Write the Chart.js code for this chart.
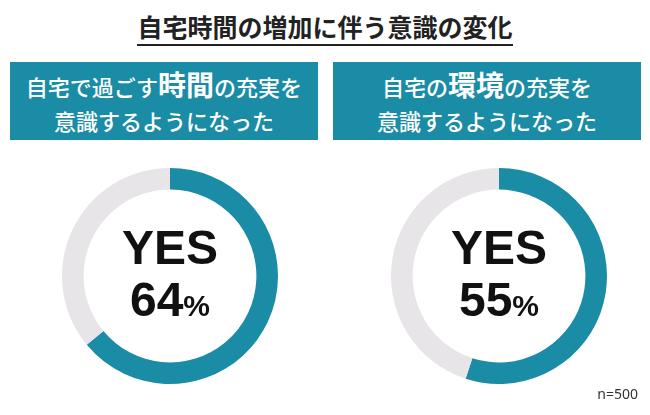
<!DOCTYPE html>
<html><head><meta charset="utf-8">
<script src="https://cdn.jsdelivr.net/npm/chart.js@4"></script>
<style>
body{margin:0;width:650px;height:415px;background:#fff;font-family:"Noto Sans CJK JP",sans-serif;position:relative;overflow:hidden}
#title{position:absolute;left:0;top:8px;width:650px;text-align:center;font-size:25px;font-weight:bold;color:#222}
#title span{border-bottom:2px solid #222;padding-bottom:0px}
.box{position:absolute;top:62px;width:308px;height:78px;background:#1a8ca6;color:#fff;text-align:center;font-size:22px;font-weight:500;line-height:34px;padding-top:5px;box-sizing:border-box}
.box b{font-size:28px;font-weight:bold}
.wrap{position:absolute;top:166px;width:220px;height:220px}
.ctr{position:absolute;left:0;top:56px;width:220px;text-align:center;font-family:"Liberation Sans",Arial,sans-serif;font-weight:bold;color:#111;font-size:48px;line-height:52px}
.ctr small{font-size:30px}
#n{position:absolute;right:12px;top:384px;font-size:14px;color:#333;font-family:"Noto Sans",sans-serif}
</style></head><body>
<div id="title"><span>自宅時間の増加に伴う意識の変化</span></div>
<div class="box" style="left:10px">自宅で過ごす<b>時間</b>の充実を<br>意識するようになった</div>
<div class="box" style="left:333px">自宅の<b>環境</b>の充実を<br>意識するようになった</div>
<div class="wrap" style="left:60px"><canvas id="c1"></canvas><div class="ctr">YES<br>64<small>%</small></div></div>
<div class="wrap" style="left:389px"><canvas id="c2"></canvas><div class="ctr">YES<br>55<small>%</small></div></div>
<div id="n">n=500</div>
<script>
const labels=["YES","NO"];
const yes1=[64,36];
const yes2=[55,45];
const colors=["#1a8ca6","#e7e5e7"];
function mk(id,data){
 new Chart(document.getElementById(id),{type:"doughnut",
  data:{labels:labels,datasets:[{data:data,backgroundColor:colors,borderWidth:0}]},
  options:{responsive:false,animation:false,cutout:"80%",
   plugins:{legend:{display:false},tooltip:{enabled:false}},layout:{padding:2}}});
}
document.getElementById("c1").width=220;document.getElementById("c1").height=220;
document.getElementById("c2").width=220;document.getElementById("c2").height=220;
mk("c1",yes1);mk("c2",yes2);
</script>
</body></html>
